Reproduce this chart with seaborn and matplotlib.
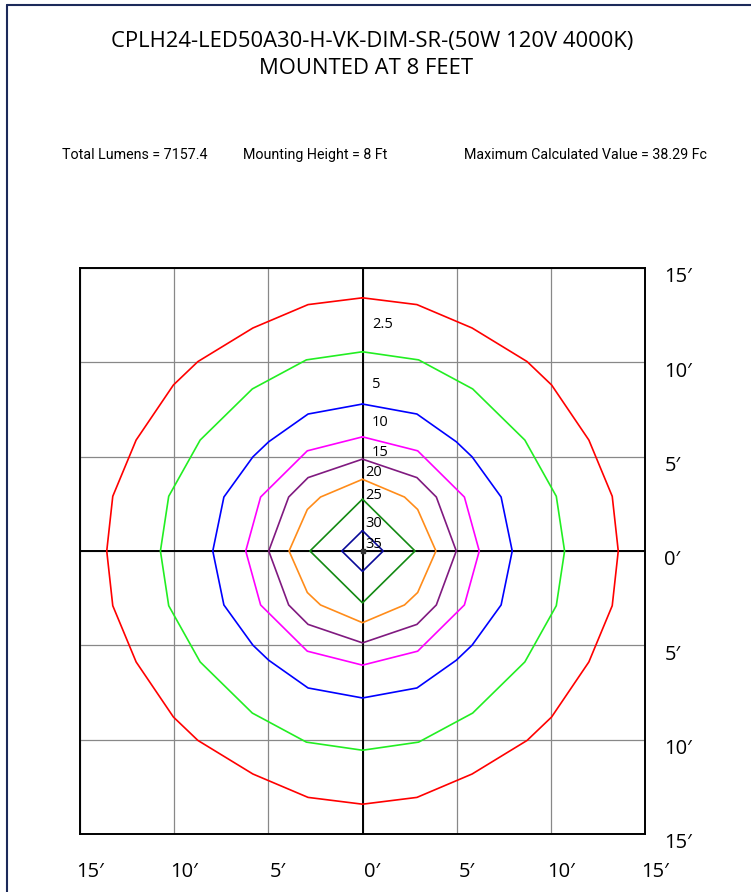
import matplotlib
matplotlib.use("Agg")
import matplotlib.pyplot as plt
from matplotlib.transforms import ScaledTranslation
from matplotlib.lines import Line2D
import seaborn as sns
import pandas as pd

# ---------------- data (feet), first quadrant, top -> right ----------------
levels = ["2.5", "5", "10", "15", "20", "25", "30", "35"]
q_x_2_5 = [0.0, 2.89, 5.82, 8.74, 10.04, 12.02, 13.26, 13.58]
q_y_2_5 = [13.42, 13.06, 11.82, 10.04, 8.80, 5.88, 2.90, 0.0]
q_x_5 = [0.0, 2.98, 5.85, 8.62, 10.29, 10.73]
q_y_5 = [10.56, 10.13, 8.59, 5.88, 2.90, 0.0]
q_x_10 = [0.0, 2.89, 4.98, 5.82, 7.36, 7.95]
q_y_10 = [7.79, 7.26, 5.79, 4.99, 2.86, 0.0]
q_x_15 = [0.0, 2.93, 5.41, 6.20]
q_y_15 = [6.05, 5.31, 2.86, 0.0]
q_x_20 = [0.0, 2.89, 3.92, 4.98]
q_y_20 = [4.87, 3.89, 2.86, 0.0]
q_x_25 = [0.0, 2.23, 2.93, 3.90]
q_y_25 = [3.80, 2.86, 2.20, 0.0]
q_x_30 = [0.0, 2.79]
q_y_30 = [2.75, 0.0]
q_x_35 = [0.0, 1.10]
q_y_35 = [1.08, 0.0]

label_x = [0.5, 0.5, 0.5, 0.5, 0.15, 0.15, 0.15, 0.15]
label_y = [12.03, 8.80, 6.80, 5.22, 4.14, 2.92, 1.45, 0.35]

colors = ["#ff0000", "#22ee22", "#0000ff", "#ff00ff", "#801a80", "#ff8c1a", "#138a13", "#0a0a99"]
tick_vals = [-15, -10, -5, 0, 5, 10, 15]
tick_labels = ["15\u2032", "10\u2032", "5\u2032", "0\u2032", "5\u2032", "10\u2032", "15\u2032"]

title_line1 = "CPLH24-LED50A30-H-VK-DIM-SR-(50W 120V 4000K)"
title_line2 = "MOUNTED AT 8 FEET"
info_left = "Total Lumens = 7157.4"
info_mid = "Mounting Height = 8 Ft"
info_right = "Maximum Calculated Value = 38.29 Fc"

quads = [(q_x_2_5, q_y_2_5), (q_x_5, q_y_5), (q_x_10, q_y_10), (q_x_15, q_y_15),
         (q_x_20, q_y_20), (q_x_25, q_y_25), (q_x_30, q_y_30), (q_x_35, q_y_35)]


def full_ring(qx, qy):
    # mirror the first quadrant into a closed ring (clockwise from top)
    xs = list(qx) + [x for x in reversed(qx[:-1])]
    ys = list(qy) + [-y for y in reversed(qy[:-1])]
    xs += [-x for x in qx[1:]]
    ys += [-y for y in qy[1:]]
    xs += [-x for x in reversed(qx[:-1])]
    ys += [y for y in reversed(qy[:-1])]
    return xs, ys


rows = []
for lev, (qx, qy) in zip(levels, quads):
    xs, ys = full_ring(qx, qy)
    for i, (x, y) in enumerate(zip(xs, ys)):
        rows.append({"level": lev, "x": x, "y": y, "order": i})
df = pd.DataFrame(rows)

# ---------------- plotting ----------------
sns.set_style("white")
plt.rcParams["font.family"] = ["Open Sans", "DejaVu Sans"]
plt.rcParams["text.color"] = "black"
plt.rcParams["xtick.color"] = "black"
plt.rcParams["ytick.color"] = "black"

fig = plt.figure(figsize=(7.51, 8.92), dpi=100)
W, H = 751, 892
ax = fig.add_axes([80 / W, 1 - 834 / H, 565 / W, 566 / H])

sns.lineplot(data=df, x="x", y="y", hue="level", hue_order=levels,
             palette=dict(zip(levels, colors)), sort=False, estimator=None,
             units="level", legend=False, linewidth=1.2, ax=ax, zorder=3)

ax.set_xlim(-15, 15)
ax.set_ylim(-15, 15)
ax.set_xticks(tick_vals)
ax.set_yticks(tick_vals)
ax.grid(True, color="#888888", linewidth=0.9, zorder=1)
ax.axhline(0, color="black", linewidth=1.4, zorder=2)
ax.axvline(0, color="black", linewidth=1.4, zorder=2)
ax.plot([0], [0], marker="s", markersize=3.5, color="#333333", zorder=4)

for s in ax.spines.values():
    s.set_visible(True)
    s.set_color("black")
    s.set_linewidth(1.4)

ax.set_xticklabels(tick_labels)
ax.yaxis.tick_right()
ax.set_yticklabels(tick_labels)
ax.tick_params(axis="x", length=0, pad=20, labelsize=14.5, labelcolor="black")
ax.tick_params(axis="y", length=0, pad=14, labelsize=14.5, labelcolor="black")
ax.set_xlabel("")
ax.set_ylabel("")
for lab in ax.get_yticklabels():
    lab.set_transform(lab.get_transform() + ScaledTranslation(0, -5 / 72, fig.dpi_scale_trans))
for lab in ax.get_xticklabels():
    lab.set_transform(lab.get_transform() + ScaledTranslation(7 / 72, 0, fig.dpi_scale_trans))

for lev, lx, ly in zip(levels, label_x, label_y):
    ax.text(lx, ly, lev, ha="left", va="center", fontsize=10.5, color="black", zorder=5)

# titles
fig.text(372 / W, 1 - 42 / H, title_line1, ha="center", va="center", fontsize=15.8, color="black")
fig.text(366 / W, 1 - 69 / H, title_line2, ha="center", va="center", fontsize=15.8, color="black")

info_font = ["Roboto", "DejaVu Sans"]
fig.text(62 / W, 1 - 155 / H, info_left, ha="left", va="center", fontsize=10.3, family=info_font, color="black")
fig.text(243 / W, 1 - 155 / H, info_mid, ha="left", va="center", fontsize=10.3, family=info_font, color="black")
fig.text(464 / W, 1 - 155 / H, info_right, ha="left", va="center", fontsize=10.3, family=info_font, color="black")

# page border
border = "#1c2a5a"
fig.add_artist(Line2D([7 / W, 7 / W], [0, 1 - 4.5 / H], color=border, linewidth=1.5, transform=fig.transFigure))
fig.add_artist(Line2D([7 / W, 1], [1 - 4.5 / H, 1 - 4.5 / H], color=border, linewidth=1.5, transform=fig.transFigure))

fig.savefig("out.png", dpi=100)
